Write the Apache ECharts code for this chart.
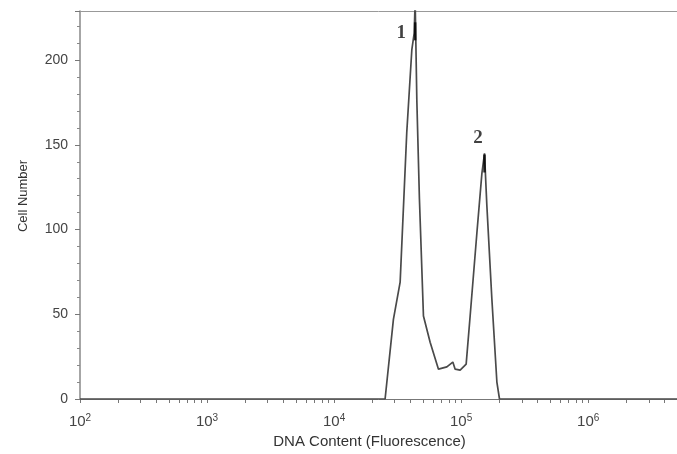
<!DOCTYPE html>
<html>
<head>
<meta charset="utf-8">
<script src="https://cdn.jsdelivr.net/npm/echarts@6/dist/echarts.min.js"></script>
<style>html,body{margin:0;padding:0;background:#fff}#c{width:677px;height:454px}</style>
</head>
<body>
<div id="c"></div>
<script>
// DNA content (fluorescence) sampled along the histogram outline
const fluorescence = [100, 25200, 29300, 33100, 37300, 40900, 42700, 43450, 44800, 46950, 50500, 57000, 66300, 77200, 86000, 89700, 98200, 109500, 117700, 133000, 145600, 152700, 159400, 174500, 191100, 200400, 5000000];
const cellNumber   = [0,   0,     47,    69,    157,   206,   216,   235,   176,   118,   49,    33.5,  17.6,  19,    21.8,  17.6,  17,    20.6,   49,     98,     133,    145,    114,    59,     10,     0,      0];
// peak markers and their labels
const peakNames = ['1', '2'];
const peakX = [43450, 152700];
const peakY = [217, 139];
const labelX = [33700, 136000];
const labelY = [216, 154];
// axis ticks
const decadeTicks = [100, 1000, 10000, 100000, 1000000];
const yMax = 229;

const minorTicks = [];
for (let d = 100; d <= 1000000; d *= 10) {
  for (let k = 1; k <= 9; k++) {
    if (d * k <= 5000000) minorTicks.push(d * k);
  }
}

const chart = echarts.init(document.getElementById('c'));
chart.setOption({
  animation: false,
  grid: { left: 80, right: 0, top: 11, bottom: 54, show: false },
  xAxis: [{
    type: 'log', min: 100, max: 5000000, logBase: 10,
    name: 'DNA Content (Fluorescence)', nameLocation: 'middle', nameGap: 35,
    nameTextStyle: { fontFamily: 'Liberation Sans', fontSize: 15, color: '#333', padding: [0, 18, 0, 0] },
    axisLine: { show: true, onZero: false, lineStyle: { color: '#777', width: 1 } },
    axisTick: { show: true, customValues: minorTicks, length: 4, lineStyle: { color: '#777' } },
    splitLine: { show: false },
    axisLabel: {
      customValues: decadeTicks,
      margin: 14,
      formatter: function (v) { return '{b|10}{s|' + Math.round(Math.log10(v)) + '}'; },
      rich: {
        b: { fontFamily: 'Liberation Sans', fontSize: 15, color: '#444' },
        s: { fontFamily: 'Liberation Sans', fontSize: 10, color: '#444', verticalAlign: 'top', padding: [0, 0, 7, 0] }
      }
    }
  }, {
    type: 'log', min: 100, max: 5000000, logBase: 10, position: 'top',
    axisLine: { show: true, onZero: false, lineStyle: { color: '#999', width: 1 } },
    axisTick: { show: false }, axisLabel: { show: false }, splitLine: { show: false }
  }],
  yAxis: {
    type: 'value', min: 0, max: yMax, interval: 50,
    name: 'Cell Number', nameLocation: 'middle', nameGap: 50, nameRotate: 90,
    nameTextStyle: { fontFamily: 'Liberation Sans', fontSize: 13, color: '#333', padding: [0, 0, 0, 18] },
    axisLine: { show: true, lineStyle: { color: '#888', width: 1.5 } },
    axisTick: { show: true, length: 5, lineStyle: { color: '#777' } },
    minorTick: { show: true, splitNumber: 5, length: 3, lineStyle: { color: '#888' } },
    splitLine: { show: false },
    axisLabel: {
      showMaxLabel: false, margin: 12,
      fontFamily: 'Liberation Sans', fontSize: 14, color: '#444'
    }
  },
  series: [
    {
      type: 'line', data: fluorescence.map((x, i) => [x, cellNumber[i]]),
      showSymbol: false, symbol: 'none', clip: true,
      lineStyle: { color: '#4a4a4a', width: 1.7 }
    },
    {
      type: 'scatter', data: peakX.map((x, i) => [x, peakY[i]]),
      symbol: 'rect', symbolSize: [2.5, 18], itemStyle: { color: '#000' }, z: 5
    },
    {
      type: 'scatter', data: labelX.map((x, i) => ({ value: [x, labelY[i]], name: peakNames[i] })),
      symbolSize: 0,
      label: {
        show: true, position: 'inside', formatter: '{b}',
        fontFamily: 'Liberation Serif', fontSize: 19, color: '#111', fontWeight: 'bold'
      }
    }
  ]
});
</script>
</body>
</html>
